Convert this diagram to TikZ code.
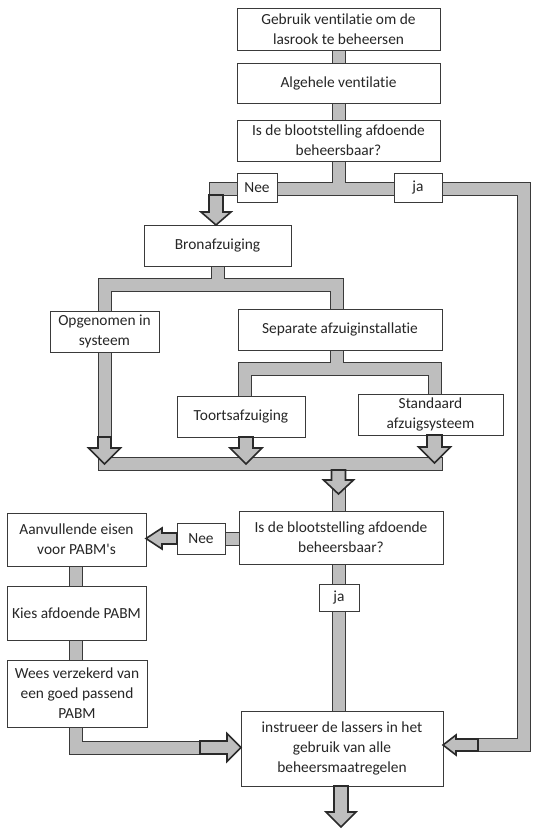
\documentclass[tikz,border=0pt]{standalone}
\usepackage{fontspec}
\setmainfont{Carlito}[Ligatures={NoCommon}]
\usetikzlibrary{calc}
\pgfdeclarelayer{bg}
\pgfsetlayers{bg,main}
\definecolor{pipegray}{HTML}{BEBEBE}
\definecolor{edge}{HTML}{3A3A3A}
\definecolor{arredge}{HTML}{2A2A2A}
\begin{document}
\begin{tikzpicture}[x=1pt,y=-1pt,
  box/.style={draw=edge, line width=0.8pt, fill=white, inner sep=0pt, outer sep=0pt,
    align=center, font=\fontsize{15.4}{20}\selectfont, text=black!85},
  pipeout/.style={line width=14pt, draw=edge, line cap=rect, line join=miter},
  pipein/.style={line width=12pt, draw=pipegray, line cap=rect, line join=miter},
  blockarrow/.style={fill=pipegray, draw=arredge, line width=1.6pt, line join=miter}]
\useasboundingbox (0,0) rectangle (544,837);

% boxes
\node[box, minimum width=203pt, minimum height=42pt] (b1) at (338.5,29) {Gebruik ventilatie om de\\lasrook te beheersen};
\node[box, minimum width=203pt, minimum height=40pt] (b2) at (338.5,83) {Algehele ventilatie};
\node[box, minimum width=203pt, minimum height=41pt] (b3) at (338.5,140.5) {Is de blootstelling afdoende\\beheersbaar?};
\node[box, minimum width=40pt, minimum height=29pt] (nee1) at (257,187.5) {Nee};
\node[box, minimum width=48pt, minimum height=29pt] (ja1) at (418,187.5) {ja};
\node[box, minimum width=147pt, minimum height=41pt] (bron) at (217.5,245.5) {Bronafzuiging};
\node[box, minimum width=109pt, minimum height=41pt] (opg) at (104.5,331.5) {Opgenomen in\\systeem};
\node[box, minimum width=204pt, minimum height=41pt] (sep) at (340,329.5) {Separate afzuiginstallatie};
\node[box, minimum width=128pt, minimum height=41pt] (toorts) at (241,416.5) {Toortsafzuiging};
\node[box, minimum width=145pt, minimum height=41pt] (std) at (430.5,414.5) {Standaard\\afzuigsysteem};
\node[box, minimum width=204pt, minimum height=53pt] (isde2) at (341,537.5) {Is de blootstelling afdoende\\beheersbaar?};
\node[box, minimum width=48pt, minimum height=31pt] (nee2) at (201,538.5) {Nee};
\node[box, minimum width=40pt, minimum height=27pt] (ja2) at (339,597.5) {ja};
\node[box, minimum width=139pt, minimum height=53pt] (aanv) at (76.5,539.5) {Aanvullende eisen\\voor PABM\textquotesingle s};
\node[box, minimum width=139pt, minimum height=54pt] (kies) at (76.5,613) {Kies afdoende PABM};
\node[box, minimum width=140pt, minimum height=67pt] (wees) at (77,693.5) {Wees verzekerd van\\een goed passend\\PABM};
\node[box, minimum width=202pt, minimum height=75pt] (instr) at (342,748.5) {instrueer de lassers in het\\gebruik van alle\\beheersmaatregelen};

% junction coordinates
\coordinate (jTop) at (338.5,189);
\coordinate (jNee) at (216,189);
\coordinate (jJa) at (524,189);
\coordinate (jJaLow) at (524,745);
\coordinate (aRight) at (470,745);
\coordinate (jBron) at (217.5,285);
\coordinate (jOpg) at (104.5,285);
\coordinate (jSep) at (337,285);
\coordinate (jSepLow) at (337,369);
\coordinate (jToorts) at (245,369);
\coordinate (jStd) at (434.5,369);
\coordinate (barL) at (104.5,463.5);
\coordinate (barR) at (435.5,463.5);
\coordinate (jWees) at (76,747.5);
\coordinate (aWees) at (205,747.5);

\def\pipes#1{%
  \draw[#1] (b1.south) -- (b2.north);
  \draw[#1] (b2.south) -- (b3.north);
  \draw[#1] (b3.south) -- (jTop);
  \draw[#1] (216,200) -- (jNee) -- (jJa) -- (jJaLow) -- (aRight);
  \draw[#1] (bron.south) -- (jBron);
  \draw[#1] (opg.north) -- (jOpg) -- (jSep) -- (337,309);
  \draw[#1] (opg.south) -- (104.5,440);
  \draw[#1] (337,350) -- (jSepLow);
  \draw[#1] (245,396) -- (jToorts) -- (jStd) -- (434.5,394);
  \draw[#1] (245,437) -- (245,440);
  \draw[#1] (barL) -- (barR);
  \draw[#1] (338.5,470) -- (338.5,511);
  \draw[#1] (isde2.south -| ja2) -- (instr.north -| ja2);
  \draw[#1] (nee2.east) -- (isde2.west |- nee2.east);
  \draw[#1] (aanv.south -| 75.5,0) -- (kies.north -| 75.5,0);
  \draw[#1] (kies.south -| 75.5,0) -- (wees.north -| 75.5,0);
  \draw[#1] (wees.south -| jWees) -- (jWees) -- (aWees);
}
\begin{pgfonlayer}{bg}
  \pipes{pipeout}
  \pipes{pipein}
\end{pgfonlayer}

% block arrows
% down arrows
\draw[blockarrow] (209,195) -- (209,212) -- (201,212) -- (216,225) -- (231,212) -- (223,212) -- (223,195) -- cycle;
\draw[blockarrow] (98,437) -- (98,448) -- (88.5,448) -- (104.5,464) -- (120.5,448) -- (111,448) -- (111,437) -- cycle;
\draw[blockarrow] (239,437) -- (239,448) -- (230,448) -- (246,464) -- (262,448) -- (253,448) -- (253,437) -- cycle;
\draw[blockarrow] (427,435) -- (427,447) -- (418.5,447) -- (434.5,463) -- (450.5,447) -- (442,447) -- (442,435) -- cycle;
\draw[blockarrow] (331.5,470) -- (331.5,480) -- (323.5,480) -- (338.5,494) -- (353.5,480) -- (345.5,480) -- (345.5,470) -- cycle;
\draw[blockarrow] (instr.south -| 334,0) -- (334,812) -- (326,812) -- (341,827) -- (356,812) -- (348,812) -- (instr.south -| 348,0) -- cycle;
% right arrow (wees -> instr)
\draw[blockarrow] (200,741) -- (227,741) -- (227,733.5) -- (instr.west |- 0,747.5) -- (227,761.5) -- (227,754) -- (200,754) -- cycle;
% left arrows
\draw[blockarrow] (nee2.west |- 0,533) -- (162,533) -- (162,528) -- (aanv.east |- 0,538.5) -- (162,549) -- (162,544) -- (nee2.west |- 0,544) -- cycle;
\draw[blockarrow] (478,739) -- (456,739) -- (456,735) -- (instr.east |- 0,745) -- (456,755) -- (456,751) -- (478,751) -- cycle;
\end{tikzpicture}
\end{document}
